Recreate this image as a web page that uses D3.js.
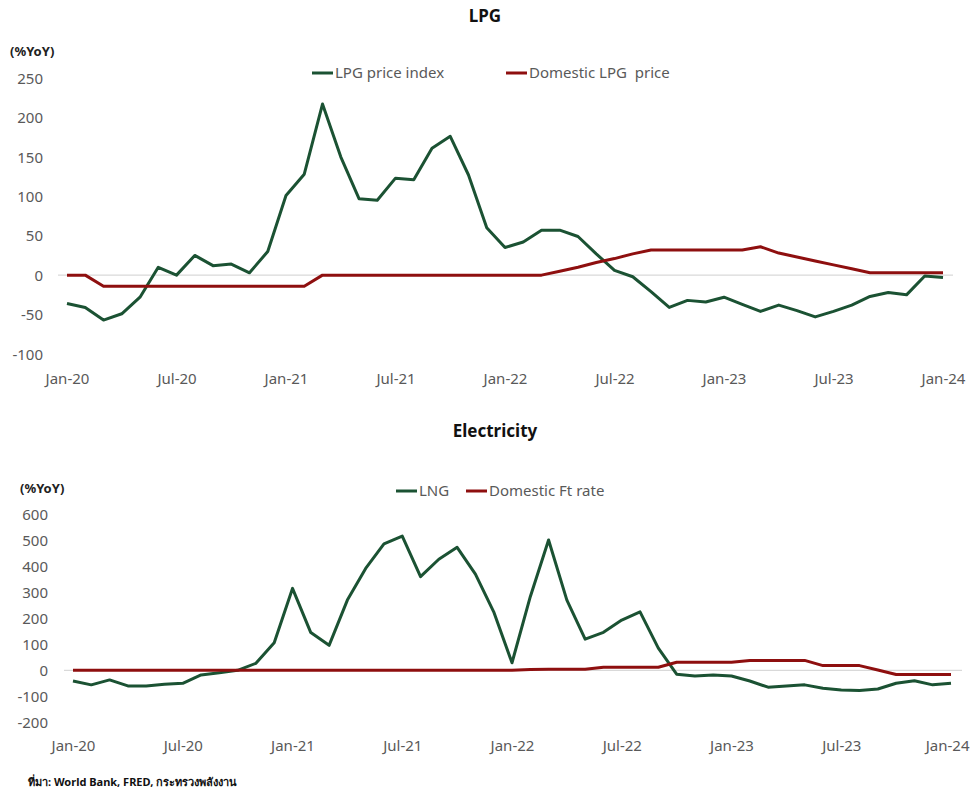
<!DOCTYPE html>
<html>
<head>
<meta charset="utf-8">
<script src="https://cdn.jsdelivr.net/npm/d3@7"></script>
<style>
  html, body { margin: 0; padding: 0; background: #fff; }
  svg { display: block; font-family: "Noto Sans", "Open Sans", sans-serif; }
</style>
</head>
<body>
<svg id="chart" width="970" height="791"></svg>
<script>
// ---- data ----
const months = d3.timeMonth.range(new Date(2020, 0, 1), new Date(2024, 1, 1)).map(d3.timeFormat("%b-%y"));
const tickLabels = ["Jan-20","Jul-20","Jan-21","Jul-21","Jan-22","Jul-22","Jan-23","Jul-23","Jan-24"];

const lpgPriceIndex = [
  -36, -41, -57, -49, -28, 10, 0, 25, 12, 14, 3, 30,
  101, 128, 217, 150, 97, 95, 123, 121, 161, 176, 127, 60,
  35, 42, 57, 57, 49, 27, 6, -2, -21, -41, -32, -34,
  -28, -37, -46, -38, -45, -53, -46, -38, -27, -22, -25, -1,
  -3
];
const domesticLpgPrice = [
  0, 0, -14, -14, -14, -14, -14, -14, -14, -14, -14, -14,
  -14, -14, 0, 0, 0, 0, 0, 0, 0, 0, 0, 0,
  0, 0, 0, 5, 10, 16, 21, 27, 32, 32, 32, 32,
  32, 32, 36, 28, 23, 18, 13, 8, 3, 3, 3, 3,
  3
];
const lng = [
  -41, -56, -37, -60, -60, -54, -50, -18, -9, 0, 27, 106,
  315, 145, 96, 270, 392, 486, 516, 360, 427, 473, 370, 225,
  29, 283, 501, 270, 120, 146, 193, 225, 85, -15, -22, -18,
  -22, -41, -65, -60, -56, -69, -76, -78, -72, -50, -40, -56,
  -50
];
const domesticFtRate = [
  0, 0, 0, 0, 0, 0, 0, 0, 0, 0, 0, 0,
  0, 0, 0, 0, 0, 0, 0, 0, 0, 0, 0, 0,
  0, 3, 4, 4, 4, 12, 12, 12, 12, 31, 31, 31,
  31, 38, 38, 38, 38, 18, 18, 18, 1, -16, -16, -16,
  -16
];
const lpgTicks = [250, 200, 150, 100, 50, 0, -50, -100];
const elecTicks = [600, 500, 400, 300, 200, 100, 0, -100, -200];

// ---- styles ----
const GREEN = "#1b5233";
const RED = "#8e0f0f";
const GRAY = "#595959";

const svg = d3.select("#chart");

function drawPanel(cfg) {
  const g = svg.append("g");
  const x = d3.scalePoint().domain(months).range(cfg.xRange);
  const y = d3.scaleLinear().domain(cfg.yDomain).range(cfg.yRange);

  // title
  g.append("text").attr("x", cfg.titleX).attr("y", cfg.titleY)
    .attr("text-anchor", "middle").attr("font-size", 17).attr("font-weight", 700)
    .attr("fill", "#111").text(cfg.title);
  // unit label
  g.append("text").attr("x", cfg.unitX).attr("y", cfg.unitY)
    .attr("font-size", 13).attr("font-weight", 700).attr("fill", "#222").text("(%YoY)");

  // zero line
  g.append("line").attr("x1", cfg.zeroX[0]).attr("x2", cfg.zeroX[1])
    .attr("y1", y(0)).attr("y2", y(0)).attr("stroke", "#d9d9d9").attr("stroke-width", 1.2);

  // y axis
  const yAxis = d3.axisLeft(y).tickValues(cfg.yTicks).tickSize(0).tickPadding(0);
  const ya = g.append("g").attr("transform", `translate(${cfg.yAxisX},0)`).call(yAxis);
  ya.select(".domain").remove();
  ya.selectAll("text").attr("font-size", 15).attr("fill", GRAY)
    .attr("font-family", "'Noto Sans', sans-serif").attr("dy", "0.35em")
    .text(d => d < 0 ? "-" + Math.abs(d) : d);

  // x axis
  const xAxis = d3.axisBottom(x).tickValues(tickLabels).tickSize(0).tickPadding(0);
  const xa = g.append("g").attr("transform", `translate(0,${cfg.xAxisY})`).call(xAxis);
  xa.select(".domain").remove();
  xa.selectAll("text").attr("font-size", 15).attr("fill", GRAY)
    .attr("font-family", "'Noto Sans', sans-serif").attr("dy", 0);
  if (cfg.clampLastTick) {
    xa.selectAll(".tick").filter(d => d === tickLabels[tickLabels.length - 1])
      .select("text").attr("text-anchor", "end").attr("x", 969 - x(tickLabels[tickLabels.length - 1]));
  }

  const line = d3.line().x((d, i) => x(months[i])).y(d => y(d));
  cfg.series.forEach(s => {
    g.append("path").datum(s.values).attr("d", line)
      .attr("fill", "none").attr("stroke", s.color).attr("stroke-width", 3)
      .attr("stroke-linejoin", "round");
  });

  // legend
  cfg.series.forEach(s => {
    const lg = g.append("g").attr("transform", `translate(${s.legendX},${cfg.legendY})`);
    lg.append("line").attr("x1", 0).attr("x2", 21).attr("y1", 0).attr("y2", 0)
      .attr("stroke", s.color).attr("stroke-width", 3);
    lg.append("text").attr("x", 23).attr("y", 0).attr("dy", "0.35em")
      .attr("font-size", 15).attr("fill", GRAY).style("white-space", "pre").text(s.name);
  });
}

drawPanel({
  title: "LPG", titleX: 485, titleY: 22,
  unitX: 10, unitY: 56,
  xRange: [67, 943], yDomain: [-100, 250], yRange: [354, 78],
  yTicks: lpgTicks, yAxisX: 43, xAxisY: 384,
  zeroX: [58, 953], legendY: 73, clampLastTick: false,
  series: [
    { name: "LPG price index", values: lpgPriceIndex, color: GREEN, legendX: 312 },
    { name: "Domestic LPG  price", values: domesticLpgPrice, color: RED, legendX: 506 }
  ]
});

drawPanel({
  title: "Electricity", titleX: 495, titleY: 437,
  unitX: 20, unitY: 493,
  xRange: [73, 951], yDomain: [-200, 600], yRange: [722.3, 514.3],
  yTicks: elecTicks, yAxisX: 48, xAxisY: 751,
  zeroX: [64, 962], legendY: 491, clampLastTick: true,
  series: [
    { name: "LNG", values: lng, color: GREEN, legendX: 396 },
    { name: "Domestic Ft rate", values: domesticFtRate, color: RED, legendX: 466 }
  ]
});

// footer
svg.append("text").attr("x", 28).attr("y", 786)
  .attr("font-size", 11).attr("font-weight", 700).attr("fill", "#111")
  .text("ที่มา: World Bank, FRED, กระทรวงพลังงาน");
</script>
</body>
</html>
